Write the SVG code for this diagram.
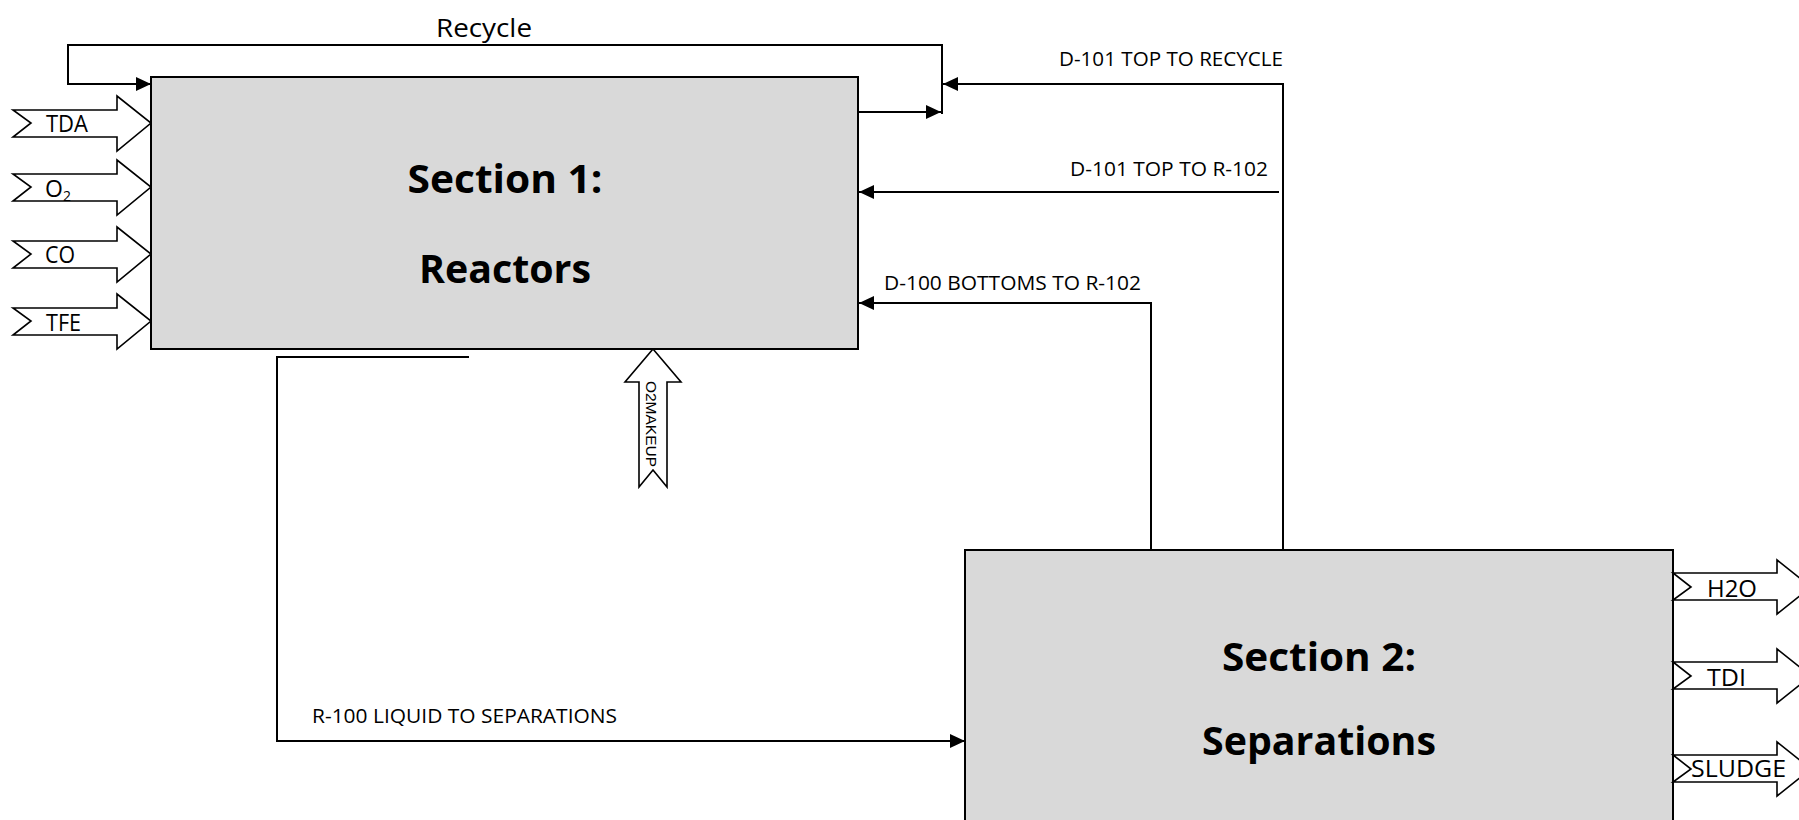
<svg xmlns="http://www.w3.org/2000/svg" width="1799" height="820" viewBox="0 0 1799 820">
<style>
.box{fill:#d9d9d9;stroke:#000;stroke-width:2}
.ln{fill:none;stroke:#000;stroke-width:2}
.blk{fill:#fff;stroke:#000;stroke-width:1.6;stroke-linejoin:miter}
.t{font-family:"Open Sans","Noto Sans",sans-serif;fill:#000}
.lab{font-size:20px}
.io{font-size:23px}
.hd{font-size:39px;font-weight:bold;text-anchor:middle}
.mk{font-family:"Liberation Sans",Arial,sans-serif;font-size:15.5px;text-anchor:middle;fill:#000}
</style>
<defs>
<marker id="ah" markerUnits="userSpaceOnUse" markerWidth="16" markerHeight="14" refX="15" refY="7" orient="auto">
<path d="M0,0 L15,7 L0,14 z" fill="#000"/>
</marker>
</defs>
<rect width="1799" height="820" fill="#fff"/>

<g id="section1">
<rect class="box" x="151" y="77" width="707" height="272"/>
<text class="t hd" x="505" y="193" textLength="195" lengthAdjust="spacingAndGlyphs">Section 1:</text>
<text class="t hd" x="505" y="283" textLength="172" lengthAdjust="spacingAndGlyphs">Reactors</text>
</g>

<g id="section2">
<rect class="box" x="965" y="550" width="708" height="300"/>
<text class="t hd" x="1319" y="671" textLength="194" lengthAdjust="spacingAndGlyphs">Section 2:</text>
<text class="t hd" x="1319" y="755" textLength="234" lengthAdjust="spacingAndGlyphs">Separations</text>
</g>

<g id="in-TDA">
<polygon class="blk" points="13,110 117,110 117,96 151,123 117,151 117,137 13,137 31,123"/>
<text class="t io" x="46" y="132" textLength="42" lengthAdjust="spacingAndGlyphs">TDA</text>
</g>
<g id="in-O2">
<polygon class="blk" points="13,174 117,174 117,160 151,187 117,215 117,201 13,201 31,187"/>
<text class="t io" x="45" y="197">O<tspan font-size="14" dy="4">2</tspan></text>
</g>
<g id="in-CO">
<polygon class="blk" points="13,241 117,241 117,227 151,254 117,282 117,268 13,268 31,254"/>
<text class="t io" x="45" y="263" textLength="30" lengthAdjust="spacingAndGlyphs">CO</text>
</g>
<g id="in-TFE">
<polygon class="blk" points="13,308 117,308 117,294 151,321 117,349 117,335 13,335 31,321"/>
<text class="t io" x="46" y="331" textLength="35" lengthAdjust="spacingAndGlyphs">TFE</text>
</g>

<g id="in-O2MAKEUP">
<polygon class="blk" points="653,349 681,382 667,382 667,487 653,470 639,487 639,382 625,382"/>
<text class="mk" transform="translate(646,424) rotate(90)">O2MAKEUP</text>
</g>

<g id="out-H2O">
<polygon class="blk" points="1673,573 1777,573 1777,560 1811,587 1777,614 1777,600 1673,600 1691,587"/>
<text class="t io" x="1707" y="597" textLength="50" lengthAdjust="spacingAndGlyphs">H2O</text>
</g>
<g id="out-TDI">
<polygon class="blk" points="1673,662 1777,662 1777,649 1811,676 1777,703 1777,689 1673,689 1691,676"/>
<text class="t io" x="1707" y="686" textLength="39" lengthAdjust="spacingAndGlyphs">TDI</text>
</g>
<g id="out-SLUDGE">
<polygon class="blk" points="1673,755 1777,755 1777,742 1811,769 1777,796 1777,782 1673,782 1691,769"/>
<text class="t io" x="1691" y="777" textLength="95" lengthAdjust="spacingAndGlyphs">SLUDGE</text>
</g>

<g id="connectors">
<path class="ln" d="M858,112 L941,112" marker-end="url(#ah)"/>
<path class="ln" d="M942,114 L942,45 L68,45 L68,84 L151,84" marker-end="url(#ah)"/>
<path class="ln" d="M1283,551 L1283,84 L943,84" marker-end="url(#ah)"/>
<path class="ln" d="M1279,192 L859,192" marker-end="url(#ah)"/>
<path class="ln" d="M1151,551 L1151,303 L859,303" marker-end="url(#ah)"/>
<path class="ln" d="M469,357 L277,357 L277,741 L965,741" marker-end="url(#ah)"/>
<text class="t" x="436" y="37" font-size="25" textLength="96" lengthAdjust="spacingAndGlyphs">Recycle</text>
<text class="t lab" x="1059" y="66" textLength="224" lengthAdjust="spacingAndGlyphs">D-101 TOP TO RECYCLE</text>
<text class="t lab" x="1070" y="176" textLength="198" lengthAdjust="spacingAndGlyphs">D-101 TOP TO R-102</text>
<text class="t lab" x="884" y="290" textLength="257" lengthAdjust="spacingAndGlyphs">D-100 BOTTOMS TO R-102</text>
<text class="t lab" x="312" y="723" textLength="305" lengthAdjust="spacingAndGlyphs">R-100 LIQUID TO SEPARATIONS</text>
</g>
</svg>
